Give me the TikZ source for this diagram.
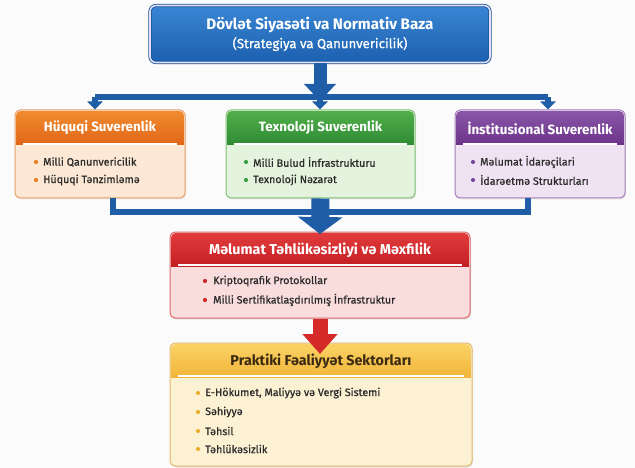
\documentclass[tikz,border=0pt]{standalone}
\usepackage{fontspec}
\setmainfont{Fira Sans}
\newfontfamily\medfont{Fira Sans}[FakeBold=0.7]
\usetikzlibrary{arrows.meta,shadows}

\definecolor{bgc}{HTML}{FBFBFC}
\definecolor{busBlue}{HTML}{1F5DA6}
\definecolor{topT}{HTML}{3A86D4}
\definecolor{topB}{HTML}{1C60AE}
\definecolor{topLine}{HTML}{1B4F8F}
\definecolor{txtDark}{HTML}{2A2A2A}
% orange
\definecolor{orgHeadT}{HTML}{F28C2E}
\definecolor{orgHeadB}{HTML}{E0661A}
\definecolor{orgBody}{HTML}{FDE8D6}
\definecolor{orgLine}{HTML}{E9A064}
\definecolor{orgDot}{HTML}{E8801F}
% green
\definecolor{grnHeadT}{HTML}{52B04A}
\definecolor{grnHeadB}{HTML}{2F8A34}
\definecolor{grnBody}{HTML}{E4F3DD}
\definecolor{grnLine}{HTML}{7FBF72}
\definecolor{grnDot}{HTML}{3F9E3F}
% purple
\definecolor{purHeadT}{HTML}{8C57AA}
\definecolor{purHeadB}{HTML}{6A3388}
\definecolor{purBody}{HTML}{EFE3F3}
\definecolor{purLine}{HTML}{A47EBB}
\definecolor{purDot}{HTML}{7A4A9A}
% red
\definecolor{redHeadT}{HTML}{E23C3C}
\definecolor{redHeadB}{HTML}{C41F25}
\definecolor{redBody}{HTML}{F9DCDC}
\definecolor{redLine}{HTML}{D86A6A}
\definecolor{redDot}{HTML}{CC2A2A}
\definecolor{redArrow}{HTML}{D42A2A}
% yellow
\definecolor{yelHeadT}{HTML}{FAD366}
\definecolor{yelHeadB}{HTML}{F2B53A}
\definecolor{yelBody}{HTML}{FDF1D4}
\definecolor{yelLine}{HTML}{E2B86A}
\definecolor{yelDot}{HTML}{EAB030}
\definecolor{yelText}{HTML}{3B2A12}

\tikzset{
  panelbox/.style={rectangle, rounded corners=5pt, line width=1pt, inner sep=0pt,
    drop shadow={opacity=0.18, shadow xshift=1pt, shadow yshift=-1.5pt}},
  headtxt/.style={font=\bfseries\fontsize{13.4}{15}\selectfont, text=white, inner sep=0pt},
  bighead/.style={font=\bfseries\fontsize{14.3}{16}\selectfont, text=white, inner sep=0pt},
  itemtxt/.style={font=\medfont\fontsize{10.7}{12}\selectfont, text=txtDark, anchor=west, inner sep=0pt},
  bus/.style={draw=busBlue, line width=6pt},
  stub/.style={draw=busBlue, line width=6pt, -{Triangle[width=15pt,length=8pt]}},
}

% #1 name, #2 x1, #3 y1, #4 x2, #5 y2, #6 header bottom, #7 colour prefix
\newcommand\mkpanel[7]{%
  \node[panelbox, draw=#7Line, fill=#7Body, minimum width={#4-#2}, minimum height={#5-#3}]
    (#1) at ({(#2+#4)/2},{(#3+#5)/2}) {};
  \begin{scope}
    \clip[rounded corners=4.5pt] ([xshift=1.6pt,yshift=-1.6pt]#1.north west)
      rectangle ([xshift=-1.6pt,yshift=1.6pt]#1.south east);
    \shade[top color=#7HeadT, bottom color=#7HeadB] (#2,#3) rectangle (#4,#6);
  \end{scope}
  \draw[white, line width=1.2pt] ({#2+8},{#6-1}) -- ({#4-8},{#6-1});
}

\begin{document}
\begin{tikzpicture}[x=1pt,y=-1pt]
\useasboundingbox (0,0) rectangle (635,468);
\fill[bgc] (0,0) rectangle (635,468);

% ---------- top box ----------
\node[panelbox, rounded corners=6pt, top color=topT, bottom color=topB,
  draw=topLine, line width=0.8pt, double=white!88!blue, double distance=1.6pt,
  minimum width=340, minimum height=57] (pol) at (320,34) {};
\node[font=\bfseries\fontsize{15.2}{17}\selectfont, text=white, inner sep=0pt] (polt) at (320,25)
  {Dövlət Siyasəti va Normativ Baza};
\node[font=\medfont\fontsize{13.2}{15}\selectfont, text=white, inner sep=0pt] (pols) at (320,44)
  {(Strategiya va Qanunvericilik)};

% ---------- three panels ----------
\mkpanel{hq}{15}{110}{185}{198}{145}{org}
\mkpanel{tx}{226}{110}{415}{198}{145}{grn}
\mkpanel{in}{455}{110}{625}{198}{145}{pur}

\node[headtxt] (hqh) at (100,128) {Hüquqi Suverenlik};
\node[headtxt] (txh) at (320.5,128) {Texnoloji Suverenlik};
\node[headtxt] (inh) at (540,128) {İnstitusional Suverenlik};

\fill[orgDot] (36,162) circle (2.1pt);
\fill[orgDot] (36,180) circle (2.1pt);
\node[itemtxt] (hq1) at (43,162) {Milli Qanunvericilik};
\node[itemtxt] (hq2) at (43,180) {Hüquqi Tənzimləmə};

\fill[grnDot] (246,162) circle (2.1pt);
\fill[grnDot] (246,180) circle (2.1pt);
\node[itemtxt] (tx1) at (253,162) {Milli Bulud İnfrastrukturu};
\node[itemtxt] (tx2) at (253,180) {Texnoloji Nəzarət};

\fill[purDot] (473,162) circle (2.1pt);
\fill[purDot] (473,180) circle (2.1pt);
\node[itemtxt] (in1) at (480,162) {Məlumat İdarəçilari};
\node[itemtxt] (in2) at (480,180) {İdarəetmə Strukturları};

% ---------- red panel ----------
\mkpanel{ml}{170}{232}{470}{318}{266}{red}
\node[bighead] (mlh) at (320,250) {Məlumat Təhlükəsizliyi və Məxfilik};
\fill[redDot] (205,281) circle (2.1pt);
\fill[redDot] (205,300) circle (2.1pt);
\node[itemtxt] (ml1) at (213,281) {Kriptoqrafik Protokollar};
\node[itemtxt] (ml2) at (213,300) {Milli Sertifikatlaşdırılmış İnfrastruktur};

% ---------- yellow panel ----------
\mkpanel{pr}{170}{343}{472}{466}{377}{yel}
\node[bighead, text=yelText] (prh) at (321,361) {Praktiki Fəaliyyət Sektorları};
\fill[yelDot] (198,393) circle (2.1pt);
\fill[yelDot] (198,412) circle (2.1pt);
\fill[yelDot] (198,431) circle (2.1pt);
\fill[yelDot] (198,449) circle (2.1pt);
\node[itemtxt] (pr1) at (205,393) {E-Hökumet, Maliyyə və Vergi Sistemi};
\node[itemtxt] (pr2) at (205,412) {Səhiyyə};
\node[itemtxt] (pr3) at (205,431) {Təhsil};
\node[itemtxt] (pr4) at (205,449) {Təhlükəsizlik};

% ---------- connectors ----------
\coordinate (busL) at (95,97);
\coordinate (busR) at (548,97);
\coordinate (busC) at (320,97);
\draw[bus] (busL) -- (busR);
\draw[stub] (busL) -- (busL |- hq.north);
\draw[stub] (busC) -- (busC |- tx.north);
\draw[stub] (busR) -- (busR |- in.north);
\coordinate (topTip) at (320,101);
\draw[draw=busBlue, line width=13pt, -{Triangle[width=31pt,length=17pt]}] (pol.south) -- (topTip);

\coordinate (joinL) at (113,212);
\coordinate (joinR) at (528,212);
\coordinate (joinC) at (320,212);
\draw[bus] (joinL |- hq.south) -- (joinL) -- (joinC);
\draw[bus] (joinR |- in.south) -- (joinR) -- (joinC);
\coordinate (midTip) at (320,234);
\draw[draw=busBlue, line width=18pt, -{Triangle[width=44pt,length=17pt]}] (tx.south) -- (midTip);

\coordinate (lowTip) at (320,354);
\draw[draw=redArrow, line width=15pt, -{Triangle[width=34pt,length=20pt]}] (ml.south) -- (lowTip);
\end{tikzpicture}
\end{document}
